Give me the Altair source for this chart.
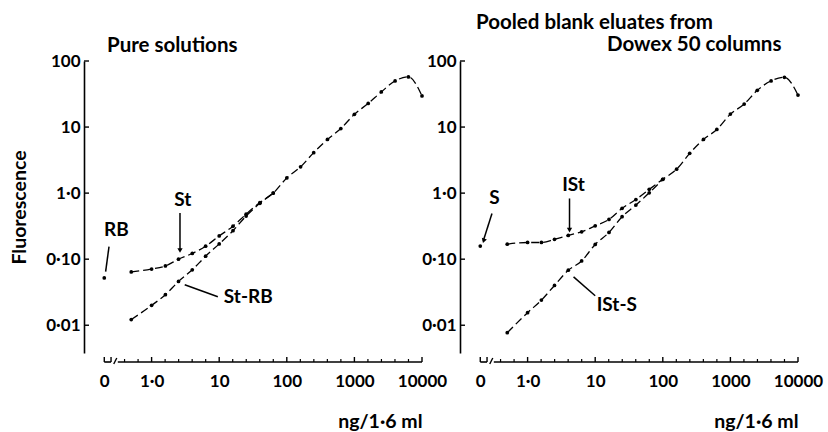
import altair as alt
import pandas as pd

# ---------------- data ----------------
conc = [0.5, 1.0, 1.6, 2.5, 4.0, 6.3, 10, 16, 25, 40, 63, 100, 160, 250, 400,
        630, 1000, 1600, 2500, 4000, 6300, 10000]

# Pure solutions
st = [0.064, 0.071, 0.079, 0.100, 0.122, 0.157, 0.225, 0.316, 0.48, 0.72, 1.0,
      1.70, 2.5, 4.1, 6.5, 9.5, 15.6, 22.8, 34, 50, 57.5, 29.6]
st_rb = [0.0122, 0.020, 0.029, 0.046, 0.069, 0.111, 0.17, 0.27, 0.45, 0.70, 1.0]
rb_blank = 0.052

# Pooled blank eluates from Dowex 50 columns
ist = [0.169, 0.179, 0.179, 0.20, 0.229, 0.26, 0.32, 0.40, 0.59, 0.80, 1.14,
       1.62, 2.3, 4.0, 6.5, 9.2, 15.7, 22.3, 36, 50, 56.6, 30.5]
ist_s = [0.0077, 0.0155, 0.024, 0.040, 0.068, 0.094, 0.167, 0.254, 0.44, 0.66,
         1.01, 1.62]
s_blank = 0.158

x_tick_values = [-0.7, 0, 1, 2, 3, 4]
x_minor = [-0.4, -0.2, 0.2, 0.4, 0.6, 0.8, 1.2, 1.4, 1.6, 1.8, 2.2, 2.4, 2.6, 2.8,
           3.2, 3.4, 3.6, 3.8]
y_tick_values = [0.01, 0.1, 1, 10, 100]

FONT = "Lato"
W, H = 338, 292
OFF = 9

def series_df(name, values):
    return pd.DataFrame({"series": name, "conc": conc[:len(values)], "fluor": values})


xscale = alt.Scale(domain=[-1, 4], nice=False, zero=False)
yscale = alt.Scale(type="log", domain=[0.0038, 100], nice=False)
XCALC = "datum.conc > 0 ? log(datum.conc) / LN10 : -0.7"


def panel(curves, blank, ann_text, ann_lines, heads, titles, ytitle):
    df = pd.concat([series_df(n, v) for n, v in curves] +
                   [pd.DataFrame({"series": ["blank"], "conc": [0.0], "fluor": [blank]})],
                   ignore_index=True)
    base = alt.Chart(df).transform_calculate(xpos=XCALC)

    xaxis = alt.Axis(values=x_tick_values,
                     labelExpr="datum.value < -0.5 ? '0' : ['1·0','10','100','1000','10000'][round(datum.value)]",
                     domain=False, ticks=False, grid=False, offset=OFF, labelPadding=11,
                     labelFlush=False, labelOverlap=False, labelFont=FONT, labelFontSize=17,
                     labelFontWeight="bold", labelColor="black",
                     title="ng/1·6 ml", titleAnchor="end", titleFont=FONT, titleFontSize=19.5,
                     titleFontWeight="bold", titlePadding=23, titleColor="black")
    yaxis_kw = dict(values=y_tick_values,
                    labelExpr="datum.value < 0.05 ? '0·01' : datum.value < 0.5 ? '0·10' : datum.value < 5 ? '1·0' : datum.value < 50 ? '10' : '100'",
                    domain=True, domainColor="black", domainWidth=1.6, ticks=False, grid=False,
                    labelPadding=4, labelFont=FONT, labelFontSize=17, labelFontWeight="bold",
                    labelColor="black", labelOverlap=False, labelFlush=False)
    if ytitle:
        yaxis = alt.Axis(title=ytitle, titleFont=FONT, titleFontSize=19.5, titleFontWeight="bold",
                         titleColor="black", titlePadding=16, **yaxis_kw)
    else:
        yaxis = alt.Axis(title=None, **yaxis_kw)

    X = lambda f="xpos": alt.X(f"{f}:Q", scale=xscale, axis=xaxis)
    Y = lambda f="fluor": alt.Y(f"{f}:Q", scale=yscale, axis=yaxis)

    lines = base.transform_filter("datum.series != 'blank'").mark_line(
        color="black", strokeWidth=1.3, strokeDash=[8, 4], interpolate="monotone"
    ).encode(x=X(), y=Y(), detail="series:N")
    pts = base.mark_circle(color="black", size=14, opacity=1).encode(x=X(), y=Y())

    # custom axis pieces
    seg = pd.DataFrame({"xpos": [-0.7, -0.5], "xpos2": [-0.6, 4.0]})
    xline = alt.Chart(seg).mark_rule(color="black", strokeWidth=1.6).encode(
        x=X(), x2="xpos2:Q", y=alt.value(H + OFF))
    brk = pd.DataFrame({"xpos": [-0.56], "xpos2": [-0.515]})
    xbreak = alt.Chart(brk).mark_rule(color="black", strokeWidth=1.4).encode(
        x=X(), x2="xpos2:Q", y=alt.value(H + OFF + 2), y2=alt.value(H + OFF - 4))
    major = alt.Chart(pd.DataFrame({"xpos": x_tick_values + [-0.6]})).mark_rule(
        color="black", strokeWidth=1.4).encode(
        x=X(), y=alt.value(H + OFF), y2=alt.value(H + OFF - 5))
    minor = alt.Chart(pd.DataFrame({"xpos": x_minor})).mark_rule(
        color="black", strokeWidth=1.2).encode(
        x=X(), y=alt.value(H + OFF), y2=alt.value(H + OFF - 3))
    yt = alt.Chart(pd.DataFrame({"fluor": y_tick_values})).mark_rule(
        color="black", strokeWidth=1.4).encode(
        y=Y(), x=alt.value(0), x2=alt.value(5))

    # annotations
    at = alt.Chart(pd.DataFrame(ann_text)).mark_text(
        font=FONT, fontSize=19, fontWeight="bold", color="black", align="center", baseline="middle"
    ).encode(x=X(), y=Y(), text="label:N")
    al = alt.Chart(pd.DataFrame(ann_lines)).mark_rule(color="black", strokeWidth=1.5).encode(
        x=X(), x2="xpos2:Q", y=Y(), y2="fluor2:Q")
    ah = alt.Chart(pd.DataFrame(heads)).mark_point(
        shape="triangle-down", filled=True, color="black", size=28, opacity=1).encode(
        x=X(), y=Y(), angle=alt.Angle("ang:Q", scale=None))

    tl = [alt.Chart(pd.DataFrame({"t": [t]})).mark_text(
        font=FONT, fontSize=20.5, fontWeight="bold", color="black", align="left", baseline="middle"
    ).encode(text="t:N", x=alt.value(tx), y=alt.value(ty)) for t, tx, ty in titles]

    return alt.layer(lines, pts, xline, xbreak, major, minor, yt, al, ah, at, *tl).properties(
        width=W, height=H)


left = panel(
    [("St", st), ("St-RB", st_rb)], rb_blank,
    {"label": ["RB", "St", "St-RB"], "xpos": [-0.52, 0.46, 1.43], "fluor": [0.275, 0.78, 0.027]},
    {"xpos": [-0.63, 0.42, 0.49], "xpos2": [-0.68, 0.42, 0.98],
     "fluor": [0.155, 0.50, 0.041], "fluor2": [0.065, 0.14, 0.027]},
    {"xpos": [0.42], "fluor": [0.135], "ang": [0]},
    [("Pure solutions", 23, -15)],
    "Fluorescence")

right = panel(
    [("ISt", ist), ("ISt-S", ist_s)], s_blank,
    {"label": ["S", "ISt", "ISt-S"], "xpos": [-0.49, 0.68, 1.32], "fluor": [0.83, 1.32, 0.02]},
    {"xpos": [-0.527, 0.62, 0.68], "xpos2": [-0.655, 0.62, 1.0],
     "fluor": [0.49, 0.83, 0.054], "fluor2": [0.19, 0.28, 0.028]},
    {"xpos": [-0.65, 0.62], "fluor": [0.19, 0.275], "ang": [18, 0]},
    [("Pooled blank eluates from", 16, -38), ("Dowex 50 columns", 147, -16)],
    None)

chart = alt.hconcat(left, right, spacing=38, bounds="flush").properties(
    padding={"left": 9, "top": 13, "right": 5, "bottom": 2}, background="white"
).configure_view(stroke=None)

chart.save("out.html", embed_options={"renderer": "svg", "actions": False})
